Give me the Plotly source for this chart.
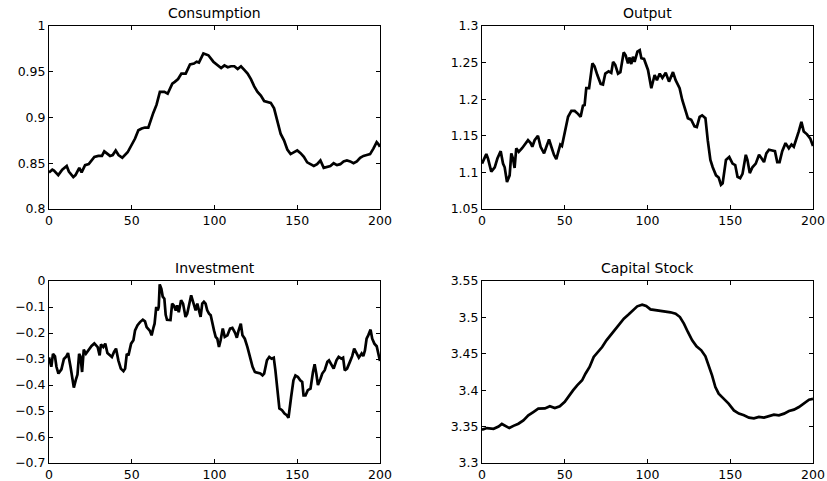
import plotly.graph_objects as go

# ---------------- data ----------------
cons_x = [0, 2, 3, 5.6, 8, 10.7, 12, 14.7, 16, 18.3, 19.7, 21.8, 24, 26, 27.4, 29.8, 32, 33.4, 36.9,
          38.5, 40.3, 42, 44.3, 47.5, 50.4, 52, 54, 56, 58, 60, 63, 65, 67, 69.7, 71.7, 74.5, 76, 78,
          80, 82.6, 85.2, 87.6, 89.2, 90.6, 93.3, 96.3, 99.3, 102, 104, 106, 108, 110, 112, 114, 116,
          118, 120, 122, 124, 126, 128, 130, 132, 134, 136, 138, 140, 142, 144, 146, 148, 150, 152,
          154, 156, 158, 160, 162, 164, 166, 168, 170, 172, 174, 176, 178, 180, 182, 184, 186, 188,
          190, 192, 194, 196, 198, 199, 200]
cons_y = [0.840, 0.843, 0.842, 0.837, 0.843, 0.847, 0.841, 0.835, 0.837, 0.845, 0.840, 0.848, 0.849,
          0.853, 0.857, 0.858, 0.858, 0.863, 0.858, 0.859, 0.864, 0.859, 0.856, 0.862, 0.871, 0.877,
          0.886, 0.888, 0.889, 0.889, 0.905, 0.914, 0.928, 0.928, 0.926, 0.937, 0.939, 0.942, 0.948,
          0.948, 0.958, 0.959, 0.961, 0.960, 0.970, 0.968, 0.961, 0.957, 0.954, 0.957, 0.955, 0.956,
          0.956, 0.953, 0.956, 0.952, 0.948, 0.942, 0.934, 0.928, 0.924, 0.918, 0.917, 0.916, 0.910,
          0.895, 0.882, 0.875, 0.865, 0.860, 0.862, 0.864, 0.861, 0.857, 0.851, 0.849, 0.847, 0.849,
          0.853, 0.845, 0.846, 0.847, 0.850, 0.848, 0.849, 0.852, 0.853, 0.852, 0.850, 0.852, 0.856,
          0.858, 0.859, 0.860, 0.866, 0.873, 0.871, 0.868]

out_x = [0, 2.6, 3.6, 5.6, 7.7, 9.3, 11.3, 12.7, 13.7, 15.1, 16.7, 17.7, 18.7, 19.7, 20.7, 22.2, 24.2,
         26.8, 27.8, 29.4, 30.4, 31.8, 33.8, 35.4, 37.5, 38.9, 40.5, 41.9, 43.5, 44.9, 46.3, 47.3,
         48.3, 50, 52, 54, 56, 58, 59.6, 61, 62, 63, 64.7, 66.7, 68, 69.7, 71.7, 73.1, 74.5, 76.5,
         78.1, 79.2, 80.5, 82.2, 83.6, 85.6, 86.8, 88.2, 89.2, 90.2, 91.2, 92.2, 93.9, 95.3, 96.3,
         97.9, 100.3, 102.3, 104.3, 105.7, 107.4, 109, 111, 113, 115.4, 117, 119.4, 121, 122.4,
         124.4, 126.4, 128.4, 129.8, 131.5, 133, 135, 136.4, 138, 139.4, 141.4, 143, 144.4, 145.4,
         147.4, 149.4, 151.4, 153, 154.4, 156, 157.4, 159.4, 160.4, 161.8, 163.4, 165.4, 167.4, 169,
         170.4, 171.8, 173.4, 175.4, 177, 178.4, 179.8, 181.4, 183.4, 185.4, 187, 188.4, 189.8,
         191.4, 193, 194.4, 196.4, 198.4, 200]
out_y = [1.112, 1.125, 1.119, 1.101, 1.107, 1.119, 1.129, 1.112, 1.107, 1.087, 1.096, 1.126, 1.119,
         1.106, 1.133, 1.128, 1.133, 1.140, 1.144, 1.140, 1.135, 1.144, 1.150, 1.135, 1.126, 1.135,
         1.145, 1.135, 1.124, 1.118, 1.128, 1.138, 1.136, 1.153, 1.176, 1.184, 1.184, 1.180, 1.176,
         1.191, 1.192, 1.215, 1.215, 1.249, 1.245, 1.233, 1.221, 1.220, 1.235, 1.238, 1.236, 1.251,
         1.247, 1.235, 1.237, 1.264, 1.260, 1.249, 1.257, 1.248, 1.258, 1.251, 1.265, 1.267, 1.256,
         1.255, 1.240, 1.215, 1.233, 1.226, 1.235, 1.229, 1.236, 1.224, 1.237, 1.226, 1.215, 1.199,
         1.190, 1.174, 1.172, 1.163, 1.162, 1.176, 1.178, 1.174, 1.144, 1.117, 1.107, 1.096, 1.093,
         1.083, 1.085, 1.117, 1.121, 1.112, 1.110, 1.094, 1.092, 1.098, 1.124, 1.117, 1.099, 1.107,
         1.112, 1.124, 1.119, 1.114, 1.126, 1.131, 1.130, 1.129, 1.114, 1.114, 1.129, 1.140, 1.133,
         1.138, 1.135, 1.144, 1.156, 1.169, 1.156, 1.152, 1.146, 1.136]

inv_x = [0, 1.4, 2.4, 3.6, 4.5, 5.7, 7.5, 9, 10.5, 11.5, 13, 14.2, 15, 16.2, 17.2, 18.2, 19, 20, 21,
         22.3, 23.7, 25.7, 27.4, 29.4, 30.6, 31.4, 32.8, 34, 35.3, 36.9, 38, 39.3, 40.5, 41.9, 43.4,
         45, 46, 47, 48, 49.6, 51, 52, 53.5, 55, 56.7, 58, 59, 61, 62, 63.2, 63.8, 64.8, 65.7, 66.3,
         66.9, 67.9, 68.7, 69.7, 70.5, 71.3, 73.4, 74.4, 75.4, 76.6, 77.4, 78.4, 79.8, 81, 82.5,
         83.5, 85.9, 87.1, 88.6, 89.6, 90.6, 91.6, 92.6, 93.6, 94.6, 95.6, 96.7, 97.7, 99.7, 100.7,
         101.7, 102.7, 103.7, 105, 106.2, 107.8, 109.4, 110.8, 112.5, 113.5, 114.5, 115.9, 116.9,
         118.3, 119.9, 121.6, 123, 124.4, 126, 127.7, 129, 130, 131.7, 133.1, 134.5, 135.8, 136.8,
         138.2, 139.2, 140.8, 142.3, 143.7, 144.7, 146.3, 147.7, 148.9, 150.4, 151.8, 153, 153.8,
         155, 156.4, 158, 159.5, 160.5, 161.5, 162.5, 164.1, 165.1, 166.6, 168.2, 169.2, 170.6, 172,
         173.7, 175, 176.7, 177.7, 178.7, 180.1, 181.8, 183.2, 184.4, 185.8, 187.2, 188.9, 189.9,
         190.9, 191.9, 192.9, 194.3, 195.3, 196.6, 198, 200]
inv_y = [-0.294, -0.33, -0.28, -0.29, -0.33, -0.356, -0.34, -0.30, -0.29, -0.277, -0.33, -0.38, -0.41,
         -0.38, -0.36, -0.28, -0.29, -0.35, -0.264, -0.28, -0.267, -0.25, -0.24, -0.254, -0.286,
         -0.244, -0.254, -0.241, -0.277, -0.286, -0.292, -0.273, -0.26, -0.305, -0.337, -0.347,
         -0.337, -0.28, -0.286, -0.241, -0.228, -0.19, -0.17, -0.158, -0.149, -0.155, -0.177,
         -0.192, -0.209, -0.177, -0.164, -0.10, -0.113, -0.10, -0.013, -0.03, -0.06, -0.068, -0.13,
         -0.149, -0.15, -0.087, -0.094, -0.113, -0.094, -0.12, -0.074, -0.087, -0.138, -0.126,
         -0.055, -0.081, -0.113, -0.087, -0.12, -0.138, -0.087, -0.08, -0.087, -0.113, -0.126,
         -0.132, -0.19, -0.215, -0.222, -0.254, -0.228, -0.183, -0.215, -0.209, -0.183, -0.18, -0.20,
         -0.218, -0.192, -0.164, -0.209, -0.222, -0.254, -0.292, -0.33, -0.35, -0.352, -0.356,
         -0.363, -0.356, -0.305, -0.292, -0.299, -0.295, -0.344, -0.433, -0.49, -0.497, -0.51,
         -0.516, -0.526, -0.446, -0.382, -0.363, -0.369, -0.382, -0.388, -0.44, -0.44, -0.42,
         -0.414, -0.35, -0.32, -0.356, -0.40, -0.375, -0.356, -0.343, -0.311, -0.305, -0.324,
         -0.337, -0.305, -0.292, -0.299, -0.295, -0.344, -0.337, -0.311, -0.289, -0.26, -0.279,
         -0.295, -0.279, -0.289, -0.267, -0.222, -0.209, -0.187, -0.222, -0.241, -0.251, -0.308]

cap_x = [0, 3, 7, 10, 12, 14, 16.5, 19, 22, 25, 28, 31, 34, 38, 41, 44, 47, 50, 52, 55, 57.5, 60.5,
         62.5, 65, 67.5, 70, 72.6, 75.2, 77.6, 80.6, 83.3, 85.7, 88.7, 91.3, 93.8, 96.8, 99.2, 101.8,
         104.8, 107.9, 110.9, 113.9, 117, 119.6, 122, 124.4, 127, 129.6, 132.5, 135, 137, 139, 141,
         143, 146, 149, 152.2, 155.2, 158.3, 161.3, 164.3, 167.3, 170.4, 173.4, 176.4, 179.4, 182.5,
         185.5, 188.5, 191.5, 194.6, 197.6, 200]
cap_y = [3.3458, 3.348, 3.347, 3.350, 3.3536, 3.351, 3.348, 3.351, 3.354, 3.3586, 3.3655, 3.370,
         3.3746, 3.375, 3.378, 3.3755, 3.378, 3.384, 3.3907, 3.3998, 3.4067, 3.4136, 3.4227, 3.4319,
         3.4456, 3.4525, 3.4593, 3.4685, 3.4754, 3.4845, 3.4914, 3.4983, 3.5042, 3.5096, 3.5152,
         3.5175, 3.5157, 3.511, 3.5097, 3.5088, 3.5079, 3.507, 3.5051, 3.5005, 3.4914, 3.48, 3.4685,
         3.4603, 3.4548, 3.4465, 3.4342, 3.4204, 3.4044, 3.3952, 3.3884, 3.3815, 3.3723, 3.3678,
         3.3655, 3.3623, 3.3614, 3.3632, 3.3623, 3.3645, 3.3664, 3.3655, 3.3678, 3.3714, 3.3733,
         3.3769, 3.3815, 3.387, 3.388]

titles = ["Consumption", "Output", "Investment", "Capital Stock"]
x_ticks = [0, 50, 100, 150, 200]
x_ticktext = ["0", "50", "100", "150", "200"]
cons_ticks = [0.8, 0.85, 0.9, 0.95, 1.0]
cons_ticktext = ["0.8", "0.85", "0.9", "0.95", "1"]
out_ticks = [1.05, 1.1, 1.15, 1.2, 1.25, 1.3]
out_ticktext = ["1.05", "1.1", "1.15", "1.2", "1.25", "1.3"]
inv_ticks = [-0.7, -0.6, -0.5, -0.4, -0.3, -0.2, -0.1, 0]
inv_ticktext = ["\u22120.7", "\u22120.6", "\u22120.5", "\u22120.4", "\u22120.3", "\u22120.2", "\u22120.1", "0"]
cap_ticks = [3.3, 3.35, 3.4, 3.45, 3.5, 3.55]
cap_ticktext = ["3.3", "3.35", "3.4", "3.45", "3.5", "3.55"]

# ---------------- figure ----------------
W, H = 827, 481
left_dom = [49 / W, 380 / W]
right_dom = [482 / W, 813 / W]
top_dom = [1 - 209 / H, 1 - 26 / H]
bot_dom = [1 - 463 / H, 1 - 281 / H]

FONT = "DejaVu Sans"
fig = go.Figure()

series = [(cons_x, cons_y), (out_x, out_y), (inv_x, inv_y), (cap_x, cap_y)]
for i, (xs, ys) in enumerate(series):
    sfx = "" if i == 0 else str(i + 1)
    fig.add_trace(go.Scatter(x=xs, y=ys, mode="lines", xaxis="x" + sfx, yaxis="y" + sfx,
                             line=dict(color="black", width=2.7), showlegend=False,
                             hoverinfo="skip"))

doms = [(left_dom, top_dom), (right_dom, top_dom), (left_dom, bot_dom), (right_dom, bot_dom)]
yinfo = [([0.8, 1.0], cons_ticks, cons_ticktext),
         ([1.05, 1.3], out_ticks, out_ticktext),
         ([-0.7, 0.0], inv_ticks, inv_ticktext),
         ([3.3, 3.55], cap_ticks, cap_ticktext)]

common = dict(showline=True, linecolor="black", linewidth=1, mirror="ticks", ticks="inside",
              ticklen=4, tickwidth=1, tickcolor="black", showgrid=False, zeroline=False,
              tickfont=dict(family=FONT, size=12.5, color="black"), automargin=False,
              fixedrange=True)

layout = dict(width=W, height=H, margin=dict(l=0, r=0, t=0, b=0),
              paper_bgcolor="white", plot_bgcolor="white", showlegend=False)
annotations = []
for i, ((xd, yd), (yr, yt, ytt)) in enumerate(zip(doms, yinfo)):
    sfx = "" if i == 0 else str(i + 1)
    layout["xaxis" + sfx] = dict(domain=xd, range=[0, 200], tickvals=x_ticks, ticktext=x_ticktext,
                                anchor="y" + sfx, **common)
    layout["yaxis" + sfx] = dict(domain=yd, range=yr, tickvals=yt, ticktext=ytt,
                                anchor="x" + sfx, **common)
    annotations.append(dict(text=titles[i], xref="paper", yref="paper",
                            x=(xd[0] + xd[1]) / 2, y=yd[1], xanchor="center", yanchor="bottom",
                            yshift=3, showarrow=False,
                            font=dict(family=FONT, size=14, color="black")))
layout["annotations"] = annotations
fig.update_layout(**layout)

fig.write_html("out.html", config={"displayModeBar": False, "staticPlot": True},
               post_script="document.body.style.margin='0px';document.body.style.overflow='hidden';")
